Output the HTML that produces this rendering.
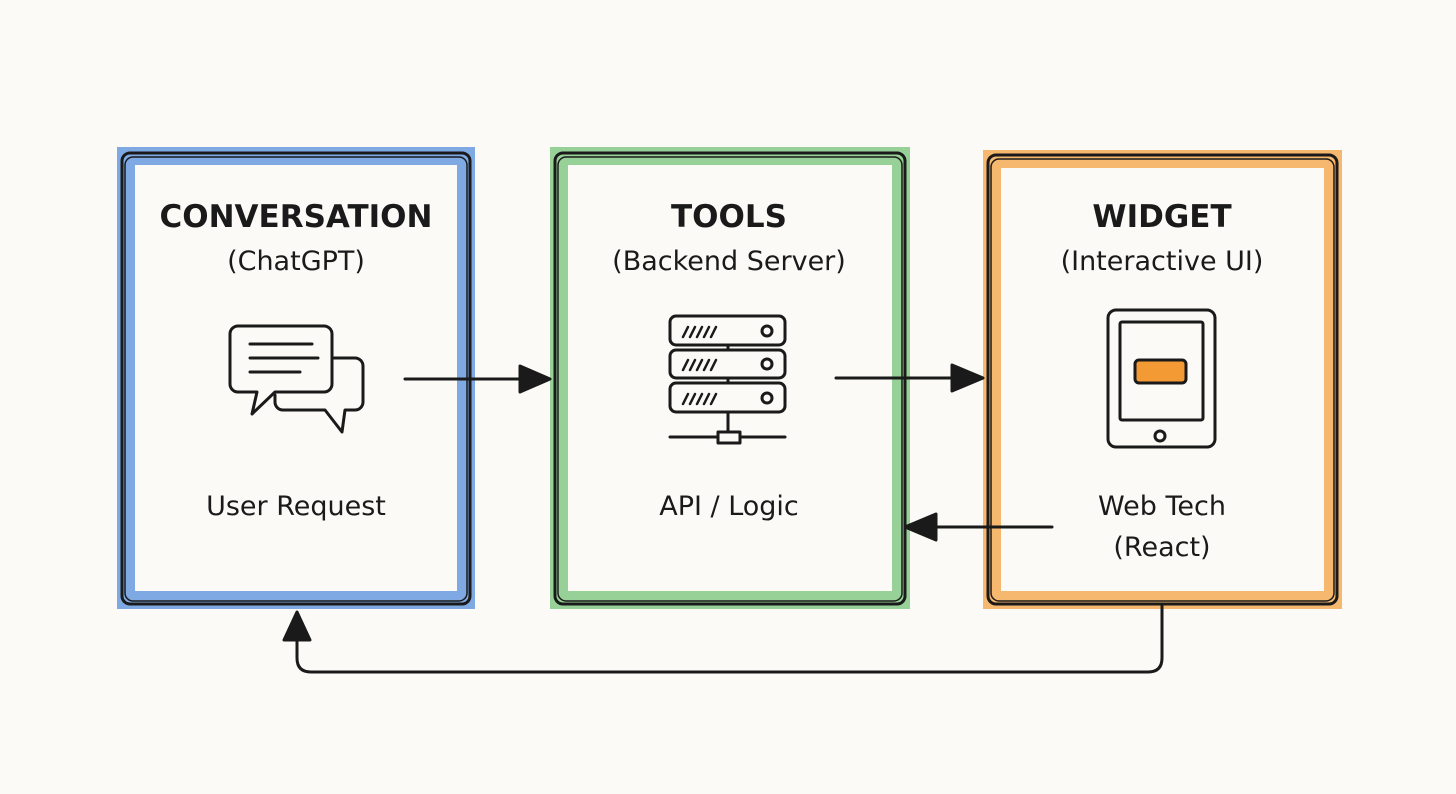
<!DOCTYPE html>
<html><head><meta charset="utf-8"><style>
html,body{margin:0;padding:0;background:#fbfaf7;}
svg{display:block}
text{font-family:"DejaVu Sans","Liberation Sans",sans-serif;fill:#1a1a1a;text-anchor:middle}
.t{font-weight:bold;font-size:31px}
.s{font-size:27px}
</style></head><body>
<svg width="1456" height="794" viewBox="0 0 1456 794" xmlns="http://www.w3.org/2000/svg">
<rect width="1456" height="794" fill="#fbfaf7"/>
<!-- crayon borders -->
<rect x="126" y="156" width="340" height="444" fill="none" stroke="#4a86d8" stroke-width="18" opacity="0.7"/>
<rect x="559" y="156" width="342" height="444" fill="none" stroke="#6cbf6e" stroke-width="18" opacity="0.7"/>
<rect x="992" y="159" width="341" height="441" fill="none" stroke="#f39a35" stroke-width="18" opacity="0.7"/>
<g fill="none" stroke="#1a1a1a" stroke-width="3" stroke-linecap="round" stroke-linejoin="round">
<rect x="122" y="153" width="348" height="451" rx="8"/>
<rect x="125" y="157" width="342" height="444" rx="8" stroke-width="1.5"/>
<rect x="555" y="153" width="350" height="451" rx="8"/>
<rect x="558" y="157" width="344" height="444" rx="8" stroke-width="1.5"/>
<rect x="988" y="155" width="349" height="449" rx="8"/>
<rect x="991" y="159" width="343" height="442" rx="8" stroke-width="1.5"/>
<!-- chat icon -->
<path d="M288 358 H355 a8 8 0 0 1 8 8 V402 a8 8 0 0 1 -8 8 H345 L342 432 L325 410 H283 a8 8 0 0 1 -8 -8 V395"/>
<path d="M238 326 H324 a8 8 0 0 1 8 8 V384 a8 8 0 0 1 -8 8 H275 L252 414 L257 392 H238 a8 8 0 0 1 -8 -8 V334 a8 8 0 0 1 8 -8 Z" fill="#fbfaf7"/>
<line x1="250" y1="344" x2="312" y2="344"/><line x1="250" y1="358" x2="318" y2="358"/><line x1="250" y1="372" x2="300" y2="372"/>
<!-- server icon -->
<rect x="670" y="316" width="115" height="29" rx="6"/>
<rect x="670" y="350" width="115" height="28" rx="6"/>
<rect x="670" y="383" width="115" height="29" rx="6"/>
<g stroke-width="2.5">
<path d="M683 337l5-10M690 337l5-10M697 337l5-10M704 337l5-10M711 337l5-10"/>
<path d="M683 370l5-10M690 370l5-10M697 370l5-10M704 370l5-10M711 370l5-10"/>
<path d="M683 404l5-10M690 404l5-10M697 404l5-10M704 404l5-10M711 404l5-10"/>
</g>
<circle cx="767" cy="331" r="5"/><circle cx="767" cy="364" r="5"/><circle cx="767" cy="398" r="5"/>
<line x1="728" y1="345" x2="728" y2="350"/><line x1="728" y1="378" x2="728" y2="383"/><line x1="728" y1="412" x2="728" y2="432"/>
<line x1="670" y1="437" x2="785" y2="437"/>
<rect x="718" y="432" width="22" height="11" fill="#fbfaf7"/>
<!-- tablet -->
<rect x="1108" y="310" width="107" height="137" rx="8"/>
<rect x="1120" y="322" width="83" height="98" rx="2"/>
<rect x="1135" y="360" width="51" height="23" rx="4" fill="#f39a35"/>
<circle cx="1160" cy="436" r="5"/>
<!-- arrows -->
<line x1="405" y1="379" x2="535" y2="379"/>
<path d="M520 366 L550 379 L520 392 Z" fill="#1a1a1a"/>
<line x1="836" y1="378" x2="968" y2="378"/>
<path d="M952 365 L983 378 L952 391 Z" fill="#1a1a1a"/>
<line x1="1052" y1="527" x2="920" y2="527"/>
<path d="M936 514 L905 527 L936 540 Z" fill="#1a1a1a"/>
<path d="M1162 606 V658 Q1162 672 1148 672 H311 Q297 672 297 658 V628"/>
<path d="M284 640 L297 612 L310 640 Z" fill="#1a1a1a"/>
</g>
<text class="t" x="296" y="227">CONVERSATION</text>
<text class="s" x="296" y="270">(ChatGPT)</text>
<text class="s" x="296" y="515">User Request</text>
<text class="t" x="729" y="227">TOOLS</text>
<text class="s" x="729" y="270">(Backend Server)</text>
<text class="s" x="729" y="515">API / Logic</text>
<text class="t" x="1162" y="227">WIDGET</text>
<text class="s" x="1162" y="270">(Interactive UI)</text>
<text class="s" x="1162" y="515">Web Tech</text>
<text class="s" x="1162" y="556">(React)</text>
</svg>
</body></html>
